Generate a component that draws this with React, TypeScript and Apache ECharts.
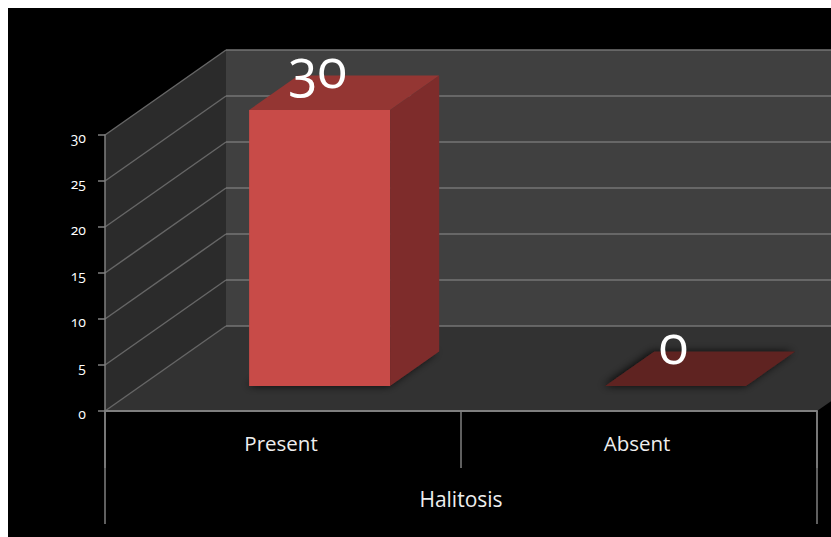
import React, { useEffect, useRef } from "react";
import * as echarts from "echarts";

const categories = ["Present", "Absent"];
const groupLabel = ["Halitosis"];
const values = [30, 0];
const yTicks = [0, 5, 10, 15, 20, 25, 30];

const DEPTH_X = 121;
const DEPTH_Y = 85;
const BAR_FRONT = 25 / 85;
const BAR_DEPTH = 34.5 / 85;
const FONT = "'Open Sans', sans-serif";

const poly = (points: number[][], fill: string, extra: any = {}) => ({
  type: "polygon",
  shape: { points },
  style: { fill, ...extra },
});
const seg = (x1: number, y1: number, x2: number, y2: number, stroke: string, lineWidth = 1.5) => ({
  type: "line",
  shape: { x1, y1, x2, y2 },
  style: { stroke, lineWidth },
});

function renderWalls(params: any, api: any) {
  const c = params.coordSys;
  const x0 = c.x;
  const x1 = c.x + c.width;
  const y0 = api.coord([0, 0])[1];
  const yT = api.coord([0, 30])[1];
  const bx = x0 + DEPTH_X;
  const children: any[] = [
    poly([[x0, y0], [bx, y0 - DEPTH_Y], [bx, yT - DEPTH_Y], [x0, yT]], "#2b2b2b"),
    poly([[bx, y0 - DEPTH_Y], [x1 + DEPTH_X, y0 - DEPTH_Y], [x1 + DEPTH_X, yT - DEPTH_Y], [bx, yT - DEPTH_Y]], "#404040"),
    poly([[x0, y0], [x1, y0], [x1 + DEPTH_X, y0 - DEPTH_Y], [bx, y0 - DEPTH_Y]], "#323232"),
  ];
  yTicks.forEach((t) => {
    const y = api.coord([0, t])[1];
    children.push(seg(x0, y, bx, y - DEPTH_Y, "#666666"));
    children.push(seg(bx, y - DEPTH_Y, x1 + DEPTH_X, y - DEPTH_Y, "#747474"));
  });
  return { type: "group", children };
}

function renderBar(params: any, api: any) {
  const idx = api.value(0);
  const val = api.value(1);
  const base = api.coord([idx, 0]);
  const top = api.coord([idx, val]);
  const w = (api.size([1, 0])[0] * 141) / 356;
  const fx = BAR_FRONT * DEPTH_X;
  const fy = BAR_FRONT * DEPTH_Y;
  const dx = BAR_DEPTH * DEPTH_X;
  const dy = BAR_DEPTH * DEPTH_Y;
  const l = base[0] + fx - w / 2 + 1;
  const r = l + w;
  const yb = base[1] - fy;
  const yt = top[1] - fy;
  const children: any[] = [
    poly(
      [[l, yb], [r, yb], [r + dx, yb - dy], [l + dx, yb - dy]],
      "#262626",
      { shadowBlur: 9, shadowColor: "rgba(0,0,0,0.85)", shadowOffsetX: -2, shadowOffsetY: 0 }
    ),
    poly([[l, yb], [r, yb], [r, yt], [l, yt]], "#c84b48"),
    poly([[r, yb], [r + dx, yb - dy], [r + dx, yt - dy], [r, yt]], "#7e2c2b"),
    poly([[l, yt], [r, yt], [r + dx, yt - dy], [l + dx, yt - dy]], val === 0 ? "#5f2321" : "#943633"),
    {
      type: "text",
      style: {
        text: String(val),
        x: l + w / 2 - 2,
        y: yt - dy - 9,
        fill: "#ffffff",
        font: `400 54px ${FONT}`,
        textAlign: "center",
        textVerticalAlign: "middle",
      },
    },
  ];
  return { type: "group", children };
}

const tickStyle = { color: "#7f7f7f", width: 1.5 };

export default function App() {
  const ref = useRef<HTMLDivElement>(null);
  useEffect(() => {
    const chart = echarts.init(ref.current!, undefined, { renderer: "svg" });
    chart.setOption({
      animation: false,
      backgroundColor: "#000000",
      textStyle: { fontFamily: FONT },
      grid: { left: 97, top: 127, width: 712, height: 276, containLabel: false },
      xAxis: [
        {
          type: "category",
          data: categories,
          z: 10,
          axisLine: { show: true, lineStyle: { color: "#7f7f7f", width: 2 } },
          axisTick: { show: true, length: 57, lineStyle: tickStyle },
          axisLabel: { color: "#eeeeee", fontSize: 20.5, fontFamily: FONT, margin: 21, padding: [0, 4, 0, 0] },
        },
        {
          type: "category",
          data: groupLabel,
          position: "bottom",
          z: 10,
          axisLine: { show: false },
          axisTick: { show: true, length: 113, lineStyle: tickStyle },
          axisLabel: { color: "#eeeeee", fontSize: 21, fontFamily: FONT, margin: 77 },
        },
      ],
      yAxis: {
        type: "value",
        min: 0,
        max: 30,
        interval: 5,
        z: 10,
        splitLine: { show: false },
        axisLine: { show: true, lineStyle: tickStyle },
        axisTick: { show: true, length: 7, lineStyle: tickStyle },
        axisLabel: { color: "#ffffff", fontSize: 14, fontFamily: FONT, margin: 19, verticalAlign: "top", lineHeight: 4 },
      },
      series: [
        {
          type: "custom",
          z: 1,
          silent: true,
          renderItem: renderWalls,
          data: [[0, 0]],
          encode: { x: 0, y: 1 },
        },
        {
          type: "custom",
          z: 2,
          renderItem: renderBar,
          data: values.map((v, i) => [i, v]),
          encode: { x: 0, y: 1 },
        },
      ],
    });
    return () => chart.dispose();
  }, []);
  return (
    <>
      <style>{`svg text { font-feature-settings: "onum" 1 !important; }`}</style>
      <div ref={ref} style={{ position: "absolute", left: 8, top: 8, width: 823, height: 529 }} />
    </>
  );
}
